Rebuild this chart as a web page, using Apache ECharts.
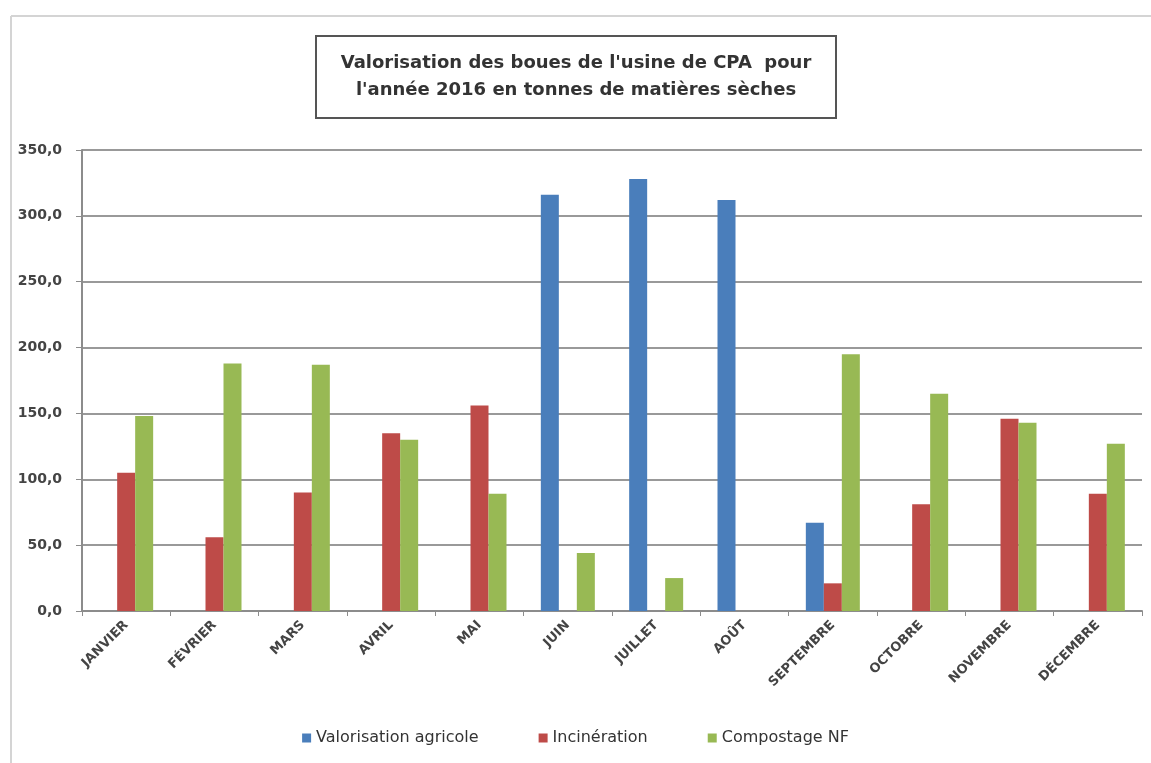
<!DOCTYPE html>
<html>
<head>
<meta charset="utf-8">
<script src="https://cdn.jsdelivr.net/npm/echarts@6/dist/echarts.min.js"></script>
<style>
  html, body { margin: 0; padding: 0; background: #fff; }
  #chart { width: 1151px; height: 763px; }
</style>
</head>
<body>
<div id="chart"></div>
<script>
// mois
const months = ['JANVIER', 'FÉVRIER', 'MARS', 'AVRIL', 'MAI', 'JUIN', 'JUILLET', 'AOÛT', 'SEPTEMBRE', 'OCTOBRE', 'NOVEMBRE', 'DÉCEMBRE']
// tonnes de matières sèches
const valorisation = [null, null, null, null, null, 316, 328, 312, 67, null, null, null]
const incineration = [105, 56, 90, 135, 156, null, null, null, 21, 81, 146, 89]
const compostage = [148, 188, 187, 130, 89, 44, 25, null, 195, 165, 143, 127]
const seriesNames = ['Valorisation agricole', 'Incinération', 'Compostage NF']

const chart = echarts.init(document.getElementById('chart'))
chart.setOption({
  animation: false,
  textStyle: { fontFamily: 'DejaVu Sans' },
  title: {
    text: "Valorisation des boues de l'usine de CPA  pour\nl'année 2016 en tonnes de matières sèches",
    left: 551,
    top: 36,
    textAlign: 'center',
    padding: [14, 25, 14, 25],
    borderColor: '#555',
    borderWidth: 2,
    textStyle: {
      fontFamily: 'DejaVu Sans',
      fontSize: 18,
      fontWeight: 'bold',
      color: '#333',
      lineHeight: 27
    }
  },
  // cadre du graphique
  graphic: [
    { type: 'line', shape: { x1: 11, y1: 16, x2: 1151, y2: 16 }, style: { stroke: '#d4d4d4', lineWidth: 2 } },
    { type: 'line', shape: { x1: 11, y1: 16, x2: 11, y2: 763 }, style: { stroke: '#d4d4d4', lineWidth: 2 } }
  ],
  legend: {
    bottom: 12,
    left: 'center',
    itemWidth: 9,
    itemHeight: 9,
    itemGap: 60,
    icon: 'rect',
    textStyle: { fontFamily: 'DejaVu Sans', fontSize: 16, color: '#333' },
    data: seriesNames
  },
  grid: { left: 82, right: 9, top: 150, bottom: 152 },
  xAxis: {
    type: 'category',
    data: months,
    axisLine: { lineStyle: { color: '#8c8c8c', width: 2 } },
    axisTick: { show: true, length: 5, lineStyle: { color: '#8c8c8c' } },
    axisLabel: {
      rotate: 45,
      fontFamily: 'DejaVu Sans',
      fontSize: 13,
      fontWeight: 'bold',
      color: '#444',
      margin: 12,
      interval: 0
    }
  },
  yAxis: {
    type: 'value',
    min: 0,
    max: 350,
    interval: 50,
    axisLine: { show: true, lineStyle: { color: '#8c8c8c', width: 2 } },
    axisTick: { show: true, length: 6, lineStyle: { color: '#8c8c8c' } },
    splitLine: { lineStyle: { color: '#999', width: 2 } },
    axisLabel: {
      fontFamily: 'DejaVu Sans',
      fontSize: 14,
      fontWeight: 'bold',
      color: '#444',
      margin: 20,
      formatter: v => v.toFixed(1).replace('.', ',')
    }
  },
  series: [
    { name: seriesNames[0], type: 'bar', data: valorisation, barWidth: 18, barGap: '0%', itemStyle: { color: '#4a7ebb' } },
    { name: seriesNames[1], type: 'bar', data: incineration, barWidth: 18, barGap: '0%', itemStyle: { color: '#be4b48' } },
    { name: seriesNames[2], type: 'bar', data: compostage, barWidth: 18, barGap: '0%', itemStyle: { color: '#98b954' } }
  ]
})
</script>
</body>
</html>
